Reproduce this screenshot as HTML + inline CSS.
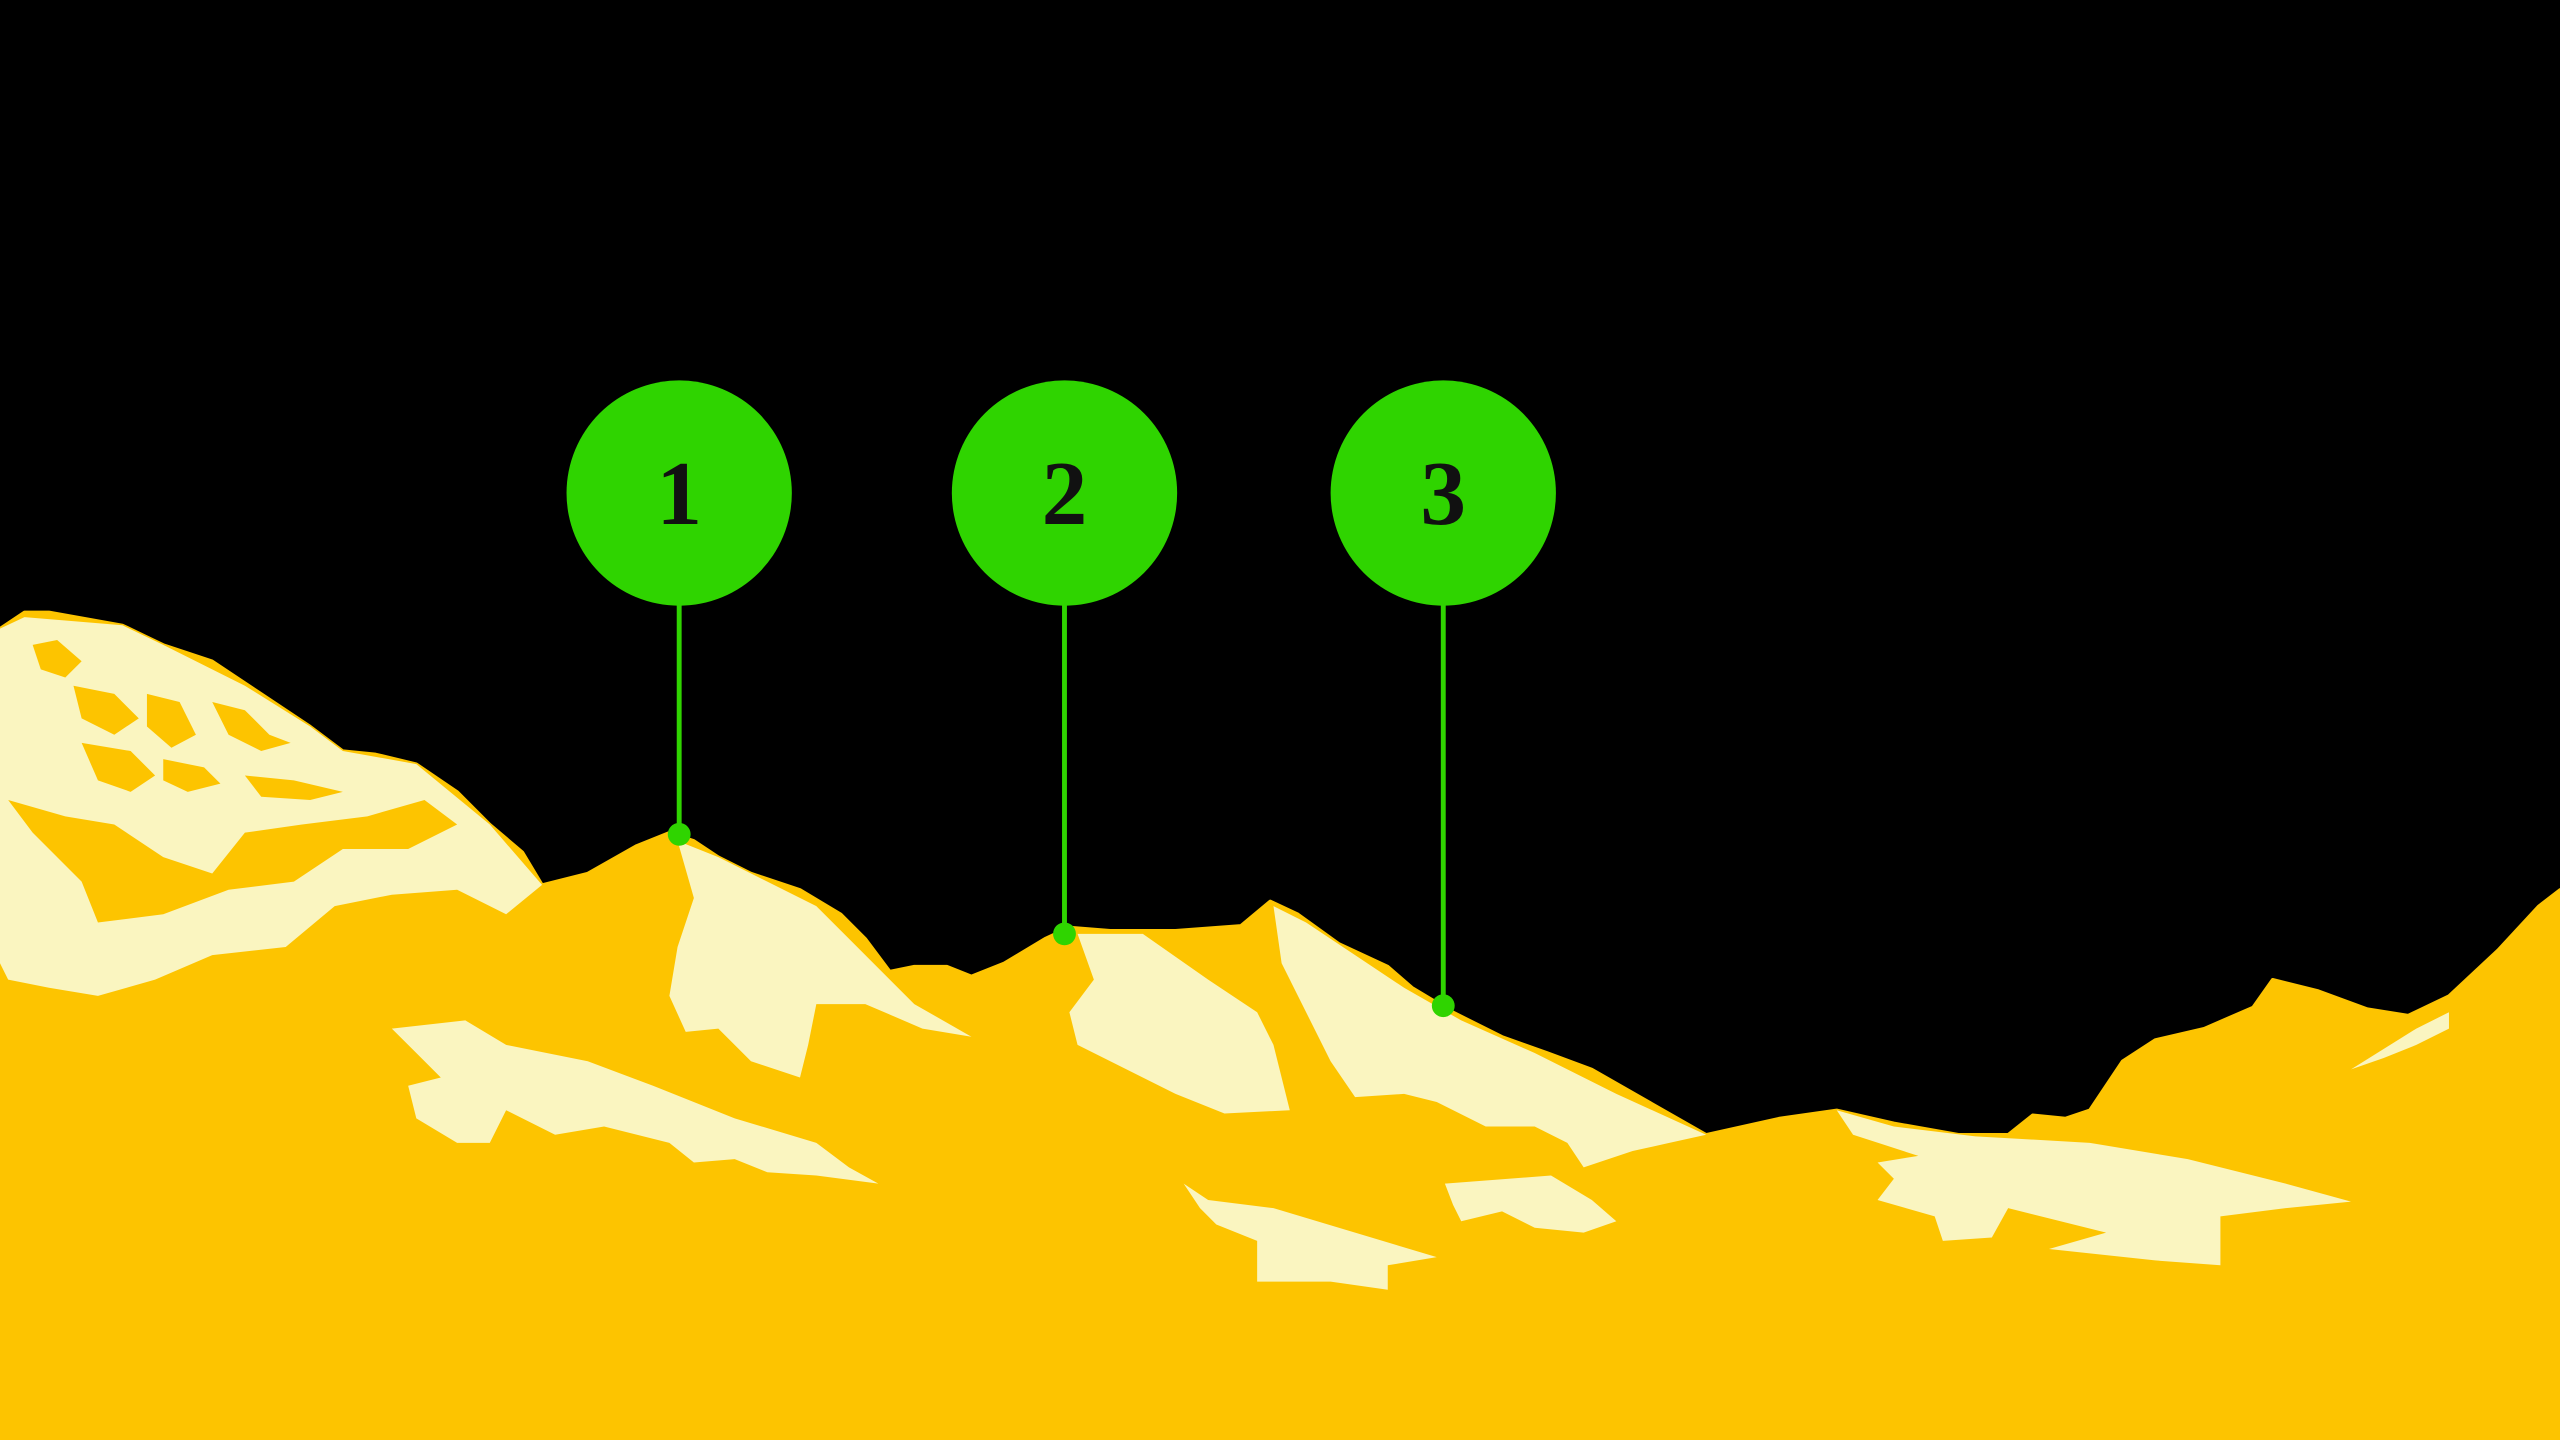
<!DOCTYPE html>
<html><head><meta charset="utf-8"><style>
html,body{margin:0;padding:0;background:#000;width:2560px;height:1440px;overflow:hidden}
svg{display:block}
</style></head><body>
<svg width="2560" height="1440" viewBox="0 0 1568 882" preserveAspectRatio="none" xmlns="http://www.w3.org/2000/svg">
<rect width="1568" height="882" fill="#000"/>
<path fill="#FDC400" stroke="#FDC400" stroke-width="2" stroke-linejoin="round" d="M0,385 L15,375 L30,375 L75,383 L100,395 L130,405 L160,425 L190,445 L210,460 L230,462 L255,468 L280,485 L300,505 L320,522 L332,542 L360,535 L390,518 L410,510 L425,515 L440,525 L460,535 L490,545 L515,560 L530,575 L545,595 L560,592 L580,592 L595,598 L615,590 L640,575 L655,568 L680,570 L720,570 L760,567 L778,552 L795,560 L820,578 L850,592 L865,605 L890,620 L920,635 L948,645 L975,655 L1010,675 L1045,695 L1090,685 L1125,680 L1160,688 L1200,695 L1230,695 L1245,683 L1265,685 L1280,680 L1300,650 L1320,637 L1350,630 L1380,617 L1392,600 L1420,607 L1450,618 L1475,622 L1500,610 L1530,582 L1555,555 L1568,545 L1568,882 L0,882 Z"/>
<g fill="#FAF5C0">
<path d="M15,378 L75,383 L100,395 L150,420 L190,445 L210,460 L255,468 L300,505 L332,542 L310,560 L280,545 L240,548 L205,555 L175,580 L130,585 L95,600 L60,610 L30,605 L5,600 L0,590 L0,385 Z"/>
<path d="M5,490 L40,500 L70,505 L100,525 L130,535 L150,510 L185,505 L225,500 L260,490 L280,505 L250,520 L210,520 L180,540 L140,545 L100,560 L60,565 L50,540 L20,510 Z" fill="#FDC400"/>
<g fill="#FDC400">
<path d="M20,395 L35,392 L50,405 L40,415 L25,410 Z"/>
<path d="M45,420 L70,425 L85,440 L70,450 L50,440 Z"/>
<path d="M90,425 L110,430 L120,450 L105,458 L90,445 Z"/>
<path d="M130,430 L150,435 L165,450 L178,455 L160,460 L140,450 Z"/>
<path d="M50,455 L80,460 L95,475 L80,485 L60,478 Z"/>
<path d="M100,465 L125,470 L135,480 L115,485 L100,478 Z"/>
<path d="M150,475 L180,478 L210,485 L190,490 L160,488 Z"/>
</g>
<path d="M415,515 L440,525 L470,540 L500,555 L520,575 L545,600 L560,615 L595,635 L565,630 L530,615 L500,615 L495,640 L490,660 L460,650 L440,630 L420,632 L410,610 L415,580 L425,550 Z"/>
<path d="M660,572 L700,572 L740,600 L770,620 L780,640 L790,680 L750,682 L720,670 L690,655 L660,640 L655,620 L670,600 Z"/>
<path d="M780,555 L800,565 L830,585 L860,605 L895,625 L940,645 L990,670 L1045,695 L1000,705 L970,715 L960,700 L940,690 L910,690 L880,675 L860,670 L830,672 L815,650 L800,620 L785,590 Z"/>
<path d="M1125,680 L1160,690 L1210,696 L1280,700 L1340,710 L1400,725 L1440,736 L1400,740 L1360,745 L1360,775 L1320,772 L1255,765 L1290,755 L1230,740 L1220,758 L1190,760 L1185,745 L1150,735 L1160,722 L1150,712 L1175,708 L1135,695 Z"/>
<path d="M240,630 L285,625 L310,640 L360,650 L400,665 L450,685 L500,700 L520,715 L538,725 L500,720 L470,718 L450,710 L425,712 L410,700 L370,690 L340,695 L310,680 L300,700 L280,700 L255,685 L250,665 L270,660 L255,645 Z"/>
<path d="M725,725 L740,735 L780,740 L830,755 L880,770 L850,775 L850,790 L815,785 L770,785 L770,760 L745,750 L735,740 Z"/>
<path d="M885,725 L950,720 L975,735 L990,748 L970,755 L940,752 L920,742 L895,748 L890,738 Z"/>
<path d="M1440,655 L1480,630 L1500,620 L1500,630 L1480,640 L1460,648 Z"/>
</g>
<g stroke="#2fd400" stroke-width="3">
<line x1="416" y1="370" x2="416" y2="511"/>
<line x1="652" y1="370" x2="652" y2="572"/>
<line x1="884" y1="370" x2="884" y2="616"/>
</g>
<g fill="#2fd400">
<circle cx="416" cy="302" r="69"/><circle cx="652" cy="302" r="69"/><circle cx="884" cy="302" r="69"/>
<circle cx="416" cy="511" r="7"/><circle cx="652" cy="572" r="7"/><circle cx="884" cy="616" r="7"/>
</g>
<g font-family="Liberation Serif, serif" font-weight="bold" font-size="56" fill="#111" text-anchor="middle">
<text x="416" y="321">1</text><text x="652" y="321">2</text><text x="884" y="321">3</text>
</g>
</svg>
</body></html>
